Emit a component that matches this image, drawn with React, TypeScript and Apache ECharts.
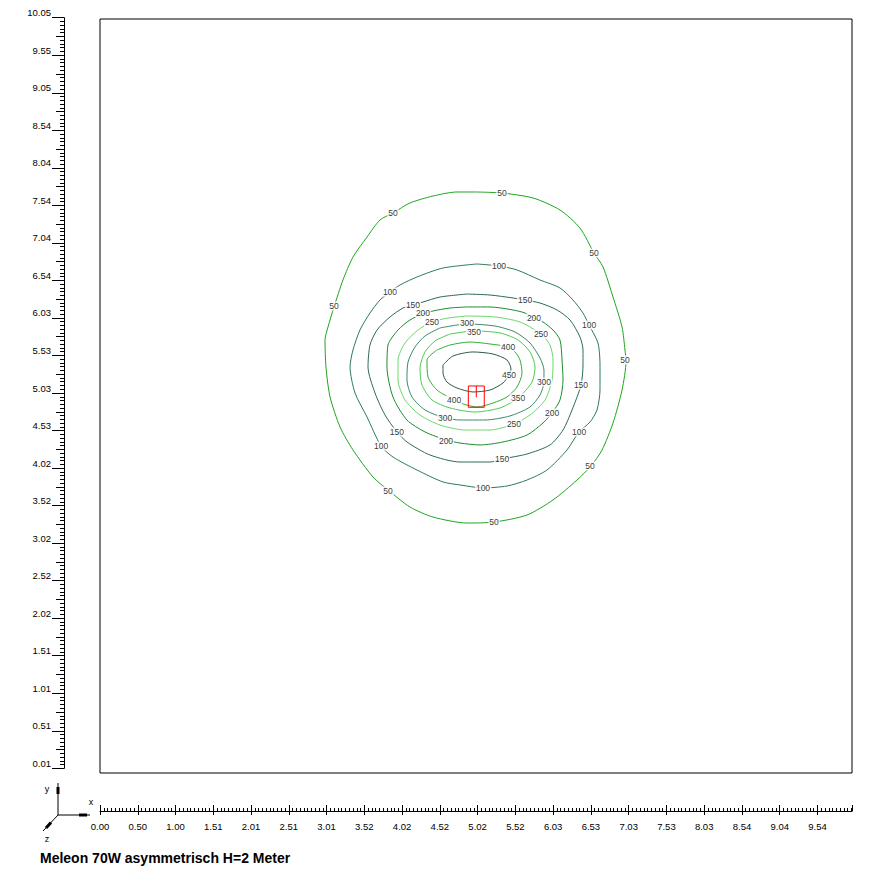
import React, { useEffect, useRef } from "react";
import * as echarts from "echarts";

// ---- data (metres / lux) ----
const levels = [50, 100, 150, 200, 250, 300, 350, 400, 450];
const levelColors = ["#1ea51e", "#2b7b58", "#2d6a58", "#1c8c2c", "#6ad86a", "#3a8a6a", "#4ccc4c", "#30b030", "#2f5a48"];

const contour50 = [[5.000,7.719],[5.346,7.705],[5.758,7.639],[6.117,7.478],[6.383,7.237],[6.569,6.903],[6.689,6.716],[6.822,6.314],[6.942,5.913],[6.981,5.605],[6.995,5.458],[6.942,5.070],[6.822,4.629],[6.676,4.268],[6.529,4.054],[6.343,3.866],[6.024,3.599],[5.678,3.398],[5.239,3.304],[4.880,3.291],[4.428,3.371],[4.122,3.505],[3.830,3.733],[3.630,3.907],[3.364,4.268],[3.192,4.576],[3.059,4.977],[3.005,5.378],[2.992,5.739],[3.032,5.913],[3.112,6.181],[3.231,6.542],[3.364,6.849],[3.551,7.117],[3.723,7.344],[3.896,7.438],[4.122,7.572],[4.428,7.665],[4.747,7.719],[5.000,7.719]];
const contour100 = [[5.013,6.756],[5.306,6.729],[5.545,6.676],[5.851,6.542],[6.117,6.435],[6.290,6.274],[6.423,6.100],[6.503,5.940],[6.622,5.699],[6.649,5.405],[6.649,5.070],[6.609,4.803],[6.516,4.642],[6.370,4.509],[6.210,4.268],[5.944,4.000],[5.678,3.866],[5.412,3.786],[5.093,3.760],[4.787,3.800],[4.561,3.840],[4.215,4.000],[3.896,4.174],[3.737,4.321],[3.551,4.709],[3.391,5.030],[3.325,5.378],[3.364,5.605],[3.457,5.873],[3.590,6.100],[3.723,6.274],[3.856,6.381],[3.989,6.475],[4.215,6.582],[4.561,6.702],[5.013,6.756]];
const contour150 = [[4.880,6.354],[5.186,6.341],[5.492,6.301],[5.652,6.274],[5.851,6.234],[6.077,6.141],[6.250,6.007],[6.383,5.779],[6.423,5.605],[6.423,5.405],[6.396,5.137],[6.277,4.803],[6.157,4.535],[5.984,4.335],[5.678,4.214],[5.346,4.147],[5.186,4.107],[4.787,4.107],[4.388,4.201],[4.082,4.375],[3.949,4.509],[3.790,4.736],[3.657,5.030],[3.564,5.378],[3.590,5.672],[3.684,5.873],[3.856,6.047],[4.029,6.167],[4.162,6.207],[4.295,6.247],[4.521,6.314],[4.880,6.354]];
const contour200 = [[4.880,6.181],[5.186,6.181],[5.492,6.141],[5.652,6.100],[5.771,6.033],[5.891,5.980],[6.024,5.873],[6.117,5.739],[6.144,5.472],[6.157,5.204],[6.117,4.937],[6.011,4.763],[5.891,4.629],[5.678,4.468],[5.359,4.375],[5.053,4.335],[4.787,4.361],[4.601,4.402],[4.322,4.509],[4.082,4.669],[3.896,4.977],[3.816,5.378],[3.830,5.672],[3.963,5.873],[4.122,6.007],[4.295,6.087],[4.428,6.127],[4.654,6.167],[4.880,6.181]];
const contour250 = [[4.880,6.060],[5.253,6.047],[5.585,5.980],[5.864,5.819],[5.984,5.672],[6.024,5.472],[6.011,5.204],[5.918,4.937],[5.718,4.736],[5.505,4.616],[5.186,4.535],[4.854,4.535],[4.521,4.602],[4.255,4.736],[4.056,4.937],[3.963,5.204],[3.963,5.472],[4.056,5.699],[4.229,5.873],[4.415,5.980],[4.628,6.033],[4.880,6.060]];
const contour300 = [[4.521,5.900],[4.880,5.953],[5.253,5.926],[5.519,5.846],[5.718,5.699],[5.851,5.498],[5.904,5.338],[5.904,5.177],[5.851,5.004],[5.718,4.843],[5.452,4.723],[5.120,4.669],[4.787,4.669],[4.588,4.696],[4.322,4.803],[4.149,4.977],[4.082,5.204],[4.096,5.445],[4.189,5.646],[4.322,5.793],[4.521,5.900]];
const contour350 = [[4.654,5.819],[4.973,5.860],[5.319,5.833],[5.559,5.739],[5.718,5.579],[5.785,5.378],[5.745,5.177],[5.559,4.963],[5.319,4.830],[4.987,4.776],[4.654,4.830],[4.415,4.937],[4.282,5.137],[4.255,5.365],[4.322,5.579],[4.455,5.726],[4.654,5.819]];
const contour400 = [[4.481,5.605],[4.654,5.672],[4.920,5.712],[5.186,5.686],[5.426,5.646],[5.519,5.579],[5.585,5.472],[5.612,5.298],[5.545,5.110],[5.412,4.977],[5.226,4.896],[5.013,4.843],[4.787,4.896],[4.708,4.937],[4.481,5.070],[4.362,5.244],[4.348,5.472],[4.481,5.605]];
const contour450 = [[4.561,5.405],[4.694,5.525],[4.960,5.579],[5.226,5.552],[5.412,5.472],[5.465,5.351],[5.439,5.271],[5.359,5.164],[5.186,5.070],[4.960,5.044],[4.747,5.097],[4.614,5.177],[4.561,5.298],[4.561,5.405]];
const contours = [contour50, contour100, contour150, contour200, contour250, contour300, contour350, contour400, contour450];

const labels50 = [[5.346,7.705],[3.896,7.438],[6.569,6.903],[3.112,6.194],[6.981,5.472],[6.516,4.054],[3.830,3.720],[5.239,3.304]];
const labels100 = [[5.306,6.729],[3.856,6.381],[6.503,5.940],[6.370,4.509],[3.737,4.321],[5.093,3.760]];
const labels150 = [[4.162,6.207],[5.652,6.274],[6.396,5.137],[3.949,4.509],[5.346,4.147]];
const labels200 = [[4.295,6.100],[5.771,6.033],[6.011,4.763],[4.601,4.388]];
const labels250 = [[4.415,5.980],[5.864,5.819],[5.505,4.616]];
const labels300 = [[4.880,5.967],[5.904,5.177],[4.588,4.696]];
const labels350 = [[4.973,5.846],[5.559,4.963]];
const labels400 = [[5.426,5.646],[4.708,4.937]];
const labels450 = [[5.439,5.271]];
const contourLabels = [labels50, labels100, labels150, labels200, labels250, labels300, labels350, labels400, labels450];

const lampOutline = [[4.898,5.124],[5.110,5.124],[5.110,4.839],[4.898,4.839],[4.898,5.124]];
const lampStem = [[5.004,5.124],[5.004,4.973]];

const xTickLabels = ["0.00","0.50","1.00","1.51","2.01","2.51","3.01","3.52","4.02","4.52","5.02","5.52","6.03","6.53","7.03","7.53","8.03","8.54","9.04","9.54"];
const yTickLabels = ["0.01","0.51","1.01","1.51","2.02","2.52","3.02","3.52","4.02","4.53","5.03","5.53","6.03","6.54","7.04","7.54","8.04","8.54","9.05","9.55","10.05"];
const xRulerMax = 19.914; // 10.00 m expressed in tick steps
const titleText = "Meleon 70W asymmetrisch H=2 Meter";

const FONT = "'Liberation Sans', Arial, sans-serif";

export default function App() {
  const ref = useRef<HTMLDivElement>(null);
  useEffect(() => {
    if (!ref.current) return;
    const chart = echarts.init(ref.current, null, { renderer: "svg" });

    const lineSeries: any[] = contours.map((c, i) => ({
      type: "line",
      name: String(levels[i]),
      xAxisIndex: 0,
      yAxisIndex: 0,
      data: c,
      symbol: "none",
      showSymbol: false,
      smooth: 0.25,
      silent: true,
      lineStyle: { color: levelColors[i], width: 1 },
      z: 2,
    }));
    lineSeries.push({
      type: "line", xAxisIndex: 0, yAxisIndex: 0, data: lampOutline, symbol: "none", silent: true,
      lineStyle: { color: "#ff0000", width: 1 }, z: 6,
    });
    lineSeries.push({
      type: "line", xAxisIndex: 0, yAxisIndex: 0, data: lampStem, symbol: "none", silent: true,
      lineStyle: { color: "#ff0000", width: 1 }, z: 6,
    });
    const labelData: any[] = [];
    contourLabels.forEach((arr, i) => arr.forEach((p) => labelData.push({ name: String(levels[i]), value: p })));
    lineSeries.push({
      type: "scatter", xAxisIndex: 0, yAxisIndex: 0, data: labelData, symbol: "rect", symbolSize: 1,
      silent: true, itemStyle: { color: "rgba(0,0,0,0)" }, z: 5,
      label: {
        show: true, position: "inside", formatter: "{b}", color: "#000", fontSize: 8.5, fontFamily: FONT,
        backgroundColor: "#fff", padding: [0, 1, 0, 1], lineHeight: 9,
      },
    });

    const hiddenAxis = { show: false, splitLine: { show: false } };
    const labelFmt = (arr: string[]) => (v: number) => (Math.abs(v - Math.round(v)) < 1e-6 ? arr[Math.round(v)] ?? "" : "");
    chart.setOption({
      animation: false,
      backgroundColor: "#fff",
      textStyle: { fontFamily: FONT },
      grid: [
        { left: 100, top: 19, width: 752, height: 754, show: true, borderColor: "#000", borderWidth: 1, backgroundColor: "transparent" },
        { left: 64, top: 17.7, width: 20, height: 750.6, show: false },
        { left: 100, top: 810, width: 752, height: 1, show: false },
      ],
      xAxis: [
        { type: "value", gridIndex: 0, min: 0, max: 10, ...hiddenAxis },
        {
          type: "value", gridIndex: 2, min: 0, max: xRulerMax, interval: 1, position: "bottom",
          axisLine: { show: true, lineStyle: { color: "#000", width: 1 } },
          axisTick: { show: true, inside: false, length: 4, lineStyle: { color: "#000" } },
          minorTick: { show: false },
          axisLabel: { show: true, showMaxLabel: false, formatter: labelFmt(xTickLabels), margin: 10, fontSize: 9.5, color: "#000", fontFamily: FONT },
          splitLine: { show: false },
        },
        {
          type: "value", gridIndex: 2, min: 0, max: xRulerMax, interval: 1, position: "bottom",
          axisLine: { show: false },
          axisTick: { show: true, inside: true, length: 6, lineStyle: { color: "#000" } },
          minorTick: { show: true, splitNumber: 10, length: 3, lineStyle: { color: "#000" } },
          axisLabel: { show: false },
          splitLine: { show: false },
        },
        { type: "value", gridIndex: 1, min: 0, max: 1, ...hiddenAxis },
      ],
      yAxis: [
        { type: "value", gridIndex: 0, min: -0.053, max: 10.033, ...hiddenAxis },
        {
          type: "value", gridIndex: 1, min: 0, max: 20, interval: 1, position: "left",
          axisLine: { show: true, lineStyle: { color: "#000", width: 1 } },
          axisTick: { show: true, length: 12, lineStyle: { color: "#000" } },
          minorTick: { show: true, splitNumber: 10, length: 4, lineStyle: { color: "#000" } },
          axisLabel: { show: true, formatter: labelFmt(yTickLabels), margin: 13, verticalAlign: "bottom", fontSize: 9.5, color: "#000", fontFamily: FONT },
          splitLine: { show: false },
        },
        {
          type: "value", gridIndex: 1, min: 0, max: 20, interval: 0.5, position: "left",
          axisLine: { show: false },
          axisTick: { show: true, length: 8, lineStyle: { color: "#000" } },
          axisLabel: { show: false },
          splitLine: { show: false },
        },
        { type: "value", gridIndex: 2, min: 0, max: 1, ...hiddenAxis },
      ],
      series: lineSeries,
      graphic: [
        { type: "line", shape: { x1: 58, y1: 815, x2: 58, y2: 783 }, style: { stroke: "#000", lineWidth: 1 } },
        { type: "line", shape: { x1: 58, y1: 794, x2: 58, y2: 787 }, style: { stroke: "#000", lineWidth: 3 } },
        { type: "line", shape: { x1: 58, y1: 815, x2: 90, y2: 815 }, style: { stroke: "#000", lineWidth: 1 } },
        { type: "line", shape: { x1: 79, y1: 815, x2: 87, y2: 815 }, style: { stroke: "#000", lineWidth: 3 } },
        { type: "line", shape: { x1: 58, y1: 815, x2: 43, y2: 831 }, style: { stroke: "#000", lineWidth: 1 } },
        { type: "line", shape: { x1: 51, y1: 822.5, x2: 46, y2: 828 }, style: { stroke: "#000", lineWidth: 3 } },
        { type: "text", x: 47, y: 789, style: { text: "y", fill: "#000", font: `9px ${FONT}`, align: "center", verticalAlign: "middle" } },
        { type: "text", x: 91, y: 802, style: { text: "x", fill: "#000", font: `9px ${FONT}`, align: "center", verticalAlign: "middle" } },
        { type: "text", x: 47, y: 839, style: { text: "z", fill: "#000", font: `9px ${FONT}`, align: "center", verticalAlign: "middle" } },
        { type: "text", x: 40, y: 858, style: { text: titleText, fill: "#000", font: `bold 14px ${FONT}`, align: "left", verticalAlign: "middle" } },
      ],
    });
    return () => chart.dispose();
  }, []);
  return <div ref={ref} style={{ position: "fixed", left: 0, top: 0, width: 880, height: 880, background: "#fff" }} />;
}
